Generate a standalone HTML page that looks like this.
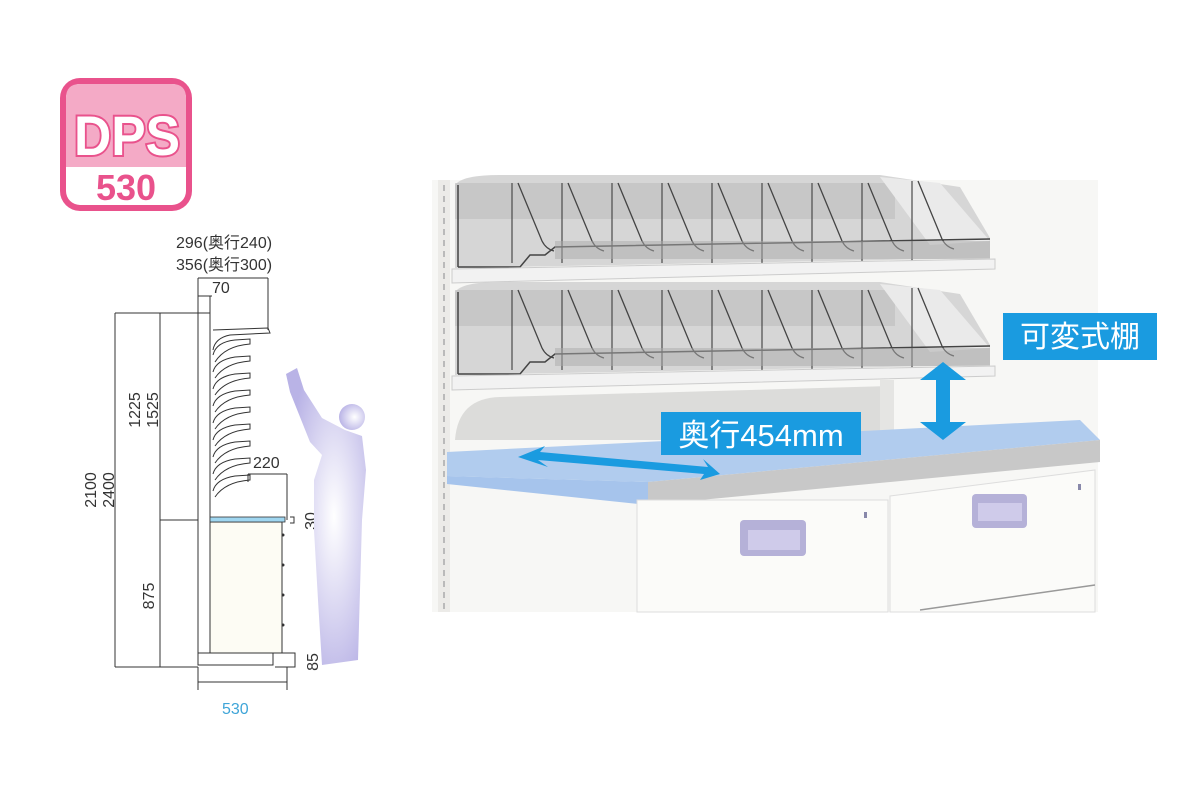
<!DOCTYPE html>
<html><head><meta charset="utf-8"><style>
html,body{margin:0;padding:0;background:#fff;}
svg{display:block;}
text{font-family:"Liberation Sans","Noto Sans CJK JP",sans-serif;}
</style></head><body>
<svg width="1200" height="802" viewBox="0 0 1200 802" xmlns="http://www.w3.org/2000/svg">
<defs>
<radialGradient id="pg" cx="0.6" cy="0.5" r="0.6"><stop offset="0" stop-color="#ffffff"/><stop offset="1" stop-color="#b9b3e6"/></radialGradient>
<g id="div">
  <line x1="0" y1="0" x2="0" y2="80" stroke="#555" stroke-width="1.3"/>
  <path d="M6,0 L30,58 Q34,66 42,68" fill="none" stroke="#444" stroke-width="1.3"/>
</g>
<g id="shelf">
  <path d="M455,2 Q462,-8 500,-8 L880,-8 L960,4 L990,55 L990,75 L455,85 Z" fill="#d6d6d6"/>
  <rect x="455" y="0" width="440" height="36" fill="#bdbdbd" opacity="0.6"/>
  <path d="M880,-6 L940,0 L990,58 L930,62 Z" fill="#eaeaea"/>
  <use href="#div" x="512" y="0"/><use href="#div" x="562" y="0"/><use href="#div" x="612" y="0"/>
  <use href="#div" x="662" y="0"/><use href="#div" x="712" y="0"/><use href="#div" x="762" y="0"/>
  <use href="#div" x="812" y="0"/><use href="#div" x="862" y="0"/><use href="#div" x="912" y="-2"/>
  <path d="M458,84 L520,84 L530,72 L545,72 L555,64 L990,56" fill="none" stroke="#444" stroke-width="1.5"/>
  <rect x="555" y="58" width="435" height="18" fill="#aaa" opacity="0.5"/>
  <path d="M452,86 L995,76 L995,86 L452,100 Z" fill="#f2f2f2" stroke="#ccc" stroke-width="1"/>
  <line x1="458" y1="2" x2="458" y2="84" stroke="#444" stroke-width="1.5"/>
</g>
</defs>

<!-- Badge -->
<rect x="60" y="78" width="132" height="133" rx="20" fill="#e9528c"/>
<rect x="66" y="84" width="120" height="121" rx="14" fill="#fff"/>
<path d="M66,98 Q66,84 80,84 L172,84 Q186,84 186,98 L186,167 L66,167 Z" fill="#f4aac6"/>
<text x="74" y="155" textLength="106" lengthAdjust="spacingAndGlyphs" font-size="56" font-weight="bold" fill="#fff" stroke="#e9528c" stroke-width="4" paint-order="stroke">DPS</text>
<text x="126" y="200" text-anchor="middle" font-size="36" font-weight="bold" fill="#e9528c">530</text>

<!-- Left drawing -->
<g stroke="#333" stroke-width="1" fill="none">
  <line x1="115" y1="313" x2="115" y2="667"/>
  <line x1="160" y1="313" x2="160" y2="667"/>
  <line x1="115" y1="313" x2="198" y2="313"/>
  <line x1="115" y1="667" x2="198" y2="667"/>
  <line x1="160" y1="520" x2="198" y2="520"/>
  <line x1="198" y1="278" x2="198" y2="313"/>
  <line x1="210" y1="296" x2="210" y2="313"/>
  <line x1="198" y1="296" x2="212" y2="296"/>
  <line x1="198" y1="278" x2="268" y2="278"/>
  <line x1="268" y1="278" x2="268" y2="330"/>
  <line x1="248" y1="474" x2="287" y2="474"/>
  <line x1="248" y1="474" x2="248" y2="482"/>
  <line x1="287" y1="474" x2="287" y2="520"/>
  <line x1="198" y1="667" x2="198" y2="690"/>
  <line x1="287" y1="667" x2="287" y2="690"/>
  <line x1="198" y1="682" x2="287" y2="682"/>
  <path d="M290,517 L294,517 L294,523 L290,523"/>
  <path d="M275,653 L295,653 L295,667 L275,667"/>
  <rect x="198" y="313" width="12" height="340" fill="#fff"/>
  <rect x="210" y="522" width="72" height="131" fill="#fdfcf4"/>
  <rect x="198" y="653" width="75" height="12" fill="#fff"/>
  <path d="M213,330 L268,328 L270,333 L230,335 Q215,338 213,350"/>
  <path d="M213,355 Q216,342 235,340 L250,339 L250,344 Q225,346 215,362"/>
  <path d="M213,372 Q216,360 235,357 L250,356 L250,361 Q225,363 215,378"/>
  <path d="M213,389 Q216,377 235,374 L250,373 L250,378 Q225,380 215,395"/>
  <path d="M213,406 Q216,394 235,391 L250,390 L250,395 Q225,397 215,412"/>
  <path d="M213,423 Q216,411 235,408 L250,407 L250,412 Q225,414 215,429"/>
  <path d="M213,440 Q216,428 235,425 L250,424 L250,429 Q225,431 215,446"/>
  <path d="M213,457 Q216,445 235,442 L250,441 L250,446 Q225,448 215,463"/>
  <path d="M213,474 Q216,462 235,459 L250,458 L250,463 Q225,465 215,480"/>
  <path d="M213,491 Q216,479 235,476 L250,475 L250,480 Q225,482 215,497"/>
</g>
<rect x="210" y="517" width="75" height="5" fill="#9fd6f0" stroke="#333" stroke-width="0.8"/>
<g fill="#333"><circle cx="283" cy="535" r="1.5"/><circle cx="283" cy="565" r="1.5"/><circle cx="283" cy="595" r="1.5"/><circle cx="283" cy="625" r="1.5"/></g>

<g font-size="16" fill="#333">
  <text x="176" y="248">296(奥行240)</text>
  <text x="176" y="270">356(奥行300)</text>
  <text x="212" y="293">70</text>
  <text x="253" y="468">220</text>
  <text x="222" y="714" fill="#3fa5d8">530</text>
  <text transform="translate(96,490) rotate(-90)" text-anchor="middle">2100</text>
  <text transform="translate(114,490) rotate(-90)" text-anchor="middle">2400</text>
  <text transform="translate(140,410) rotate(-90)" text-anchor="middle">1225</text>
  <text transform="translate(158,410) rotate(-90)" text-anchor="middle">1525</text>
  <text transform="translate(154,596) rotate(-90)" text-anchor="middle">875</text>
  <text transform="translate(316,521) rotate(-90)" text-anchor="middle">30</text>
  <text transform="translate(318,662) rotate(-90)" text-anchor="middle">85</text>
</g>

<!-- person -->
<g fill="url(#pg)">
  <circle cx="352" cy="417" r="13"/>
  <path d="M286,374 L297,368 L304,390 L322,418 L345,430 L362,436 L366,470 L362,520 L360,590 L358,660 L322,665 L318,600 L314,530 L314,480 L322,455 L310,442 L298,412 L290,392 Z"/>
</g>

<!-- Photo -->
<rect x="432" y="180" width="666" height="432" fill="#f7f7f5"/>
<rect x="438" y="180" width="12" height="432" fill="#ecebe8"/>
<line x1="444" y1="185" x2="444" y2="610" stroke="#aaa" stroke-width="1.5" stroke-dasharray="6,5"/>
<use href="#shelf" x="0" y="183"/>
<use href="#shelf" x="0" y="290"/>
<path d="M455,440 Q458,398 500,397 L890,386 L890,440 Z" fill="#dcdcda"/>
<rect x="880" y="380" width="14" height="60" fill="#e5e5e3"/>
<!-- counter -->
<path d="M447,452 L1080,420 L1100,440 L648,482 L447,476 Z" fill="#b1ccee"/>
<path d="M447,476 L648,482 L648,505 L447,484 Z" fill="#a6c4ec"/>
<path d="M648,482 L1100,440 L1100,462 L648,505 Z" fill="#c8c8c8"/>
<rect x="637" y="500" width="251" height="112" fill="#fbfbf9" stroke="#ddd"/>
<path d="M890,496 L1095,470 L1095,612 L890,612 Z" fill="#fbfbf9" stroke="#ddd"/>
<line x1="920" y1="610" x2="1095" y2="585" stroke="#999" stroke-width="1.5"/>
<rect x="740" y="520" width="66" height="36" rx="4" fill="#b5b1d8"/>
<rect x="748" y="530" width="52" height="20" fill="#cfcbea"/>
<rect x="972" y="494" width="55" height="34" rx="4" fill="#b5b1d8"/>
<rect x="978" y="503" width="44" height="18" fill="#cfcbea"/>
<rect x="864" y="512" width="3" height="6" fill="#88a"/>
<rect x="1078" y="484" width="3" height="6" fill="#88a"/>

<!-- arrows -->
<g fill="#1a9be0">
  <path d="M943,362 L966,380 L950,380 L950,422 L966,422 L943,440 L920,422 L936,422 L936,380 L920,380 Z"/>
  <path d="M518,457 L545,446 L540,452 L708,467 L703,459 L720,474 L700,480 L704,474 L538,460 L548,467 Z"/>
</g>
<rect x="661" y="412" width="200" height="43" fill="#1a9be0"/>
<text x="761" y="446" text-anchor="middle" font-size="31" fill="#fff">奥行454mm</text>
<rect x="1003" y="313" width="154" height="47" fill="#1a9be0"/>
<text x="1080" y="347" text-anchor="middle" font-size="30" fill="#fff">可変式棚</text>
</svg>
</body></html>
